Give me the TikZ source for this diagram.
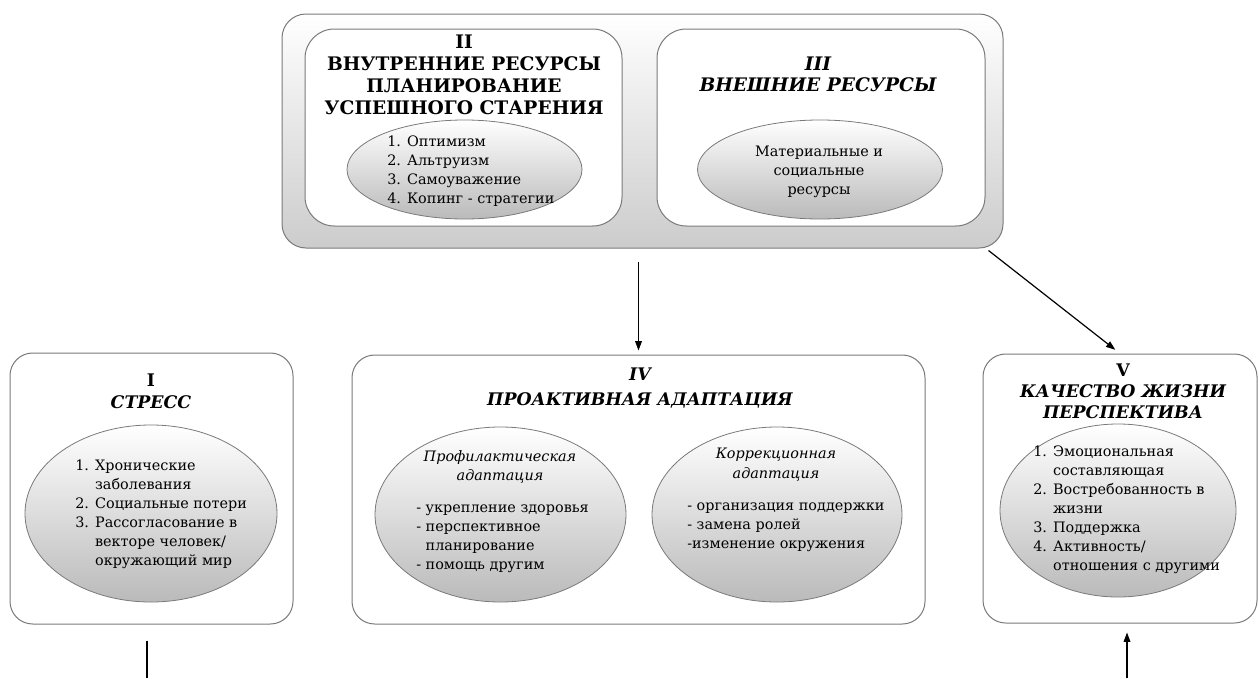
\documentclass[tikz,border=0pt]{standalone}
\usepackage{fontspec}
\setmainfont{DejaVu Serif}
\usetikzlibrary{shapes.geometric,arrows.meta}
\definecolor{edgegray}{HTML}{7A7A7A}
\tikzset{
  panel/.style={draw=edgegray, line width=0.75pt, fill=white, rounded corners=17pt, inner sep=0pt},
  bigpanel/.style={draw=edgegray, line width=0.75pt, rounded corners=18pt, inner sep=0pt, top color=white, bottom color=black!20},
  oval/.style={ellipse, draw=edgegray, line width=0.6pt, inner sep=0pt, top color=white, bottom color=black!27},
  ttl/.style={align=center, inner sep=0pt, font=\bfseries\fontsize{14}{16.5}\selectfont},
  ttli/.style={align=center, inner sep=0pt, font=\bfseries\itshape\fontsize{13}{16}\selectfont},
  lst/.style={align=left, inner sep=0pt, anchor=west, font=\fontsize{10.8}{14.25}\selectfont},
  ctr/.style={align=center, inner sep=0pt, font=\fontsize{10.8}{14.25}\selectfont},
  sub/.style={align=center, inner sep=0pt, font=\itshape\fontsize{10.8}{14.8}\selectfont},
  arr/.style={draw=black, line width=0.9pt, -{Triangle[length=7pt,width=5pt]}},
  plain/.style={draw=black, line width=0.9pt}
}
\begin{document}
\begin{tikzpicture}[x=0.75pt, y=-0.75pt]
\useasboundingbox (0,0) rectangle (1259,678);
% top block
\node[bigpanel, minimum width=540.75pt, minimum height=175.5pt] (T) at (642.5,131) {};
\node[panel, rounded corners=22pt, minimum width=237.75pt, minimum height=147.75pt] (B2) at (463.5,127.5) {};
\node[panel, rounded corners=22pt, minimum width=246pt, minimum height=147.75pt] (B3) at (821,127.5) {};
\node[oval, minimum width=176.25pt, minimum height=74.25pt] (E2) at (464.5,169.5) {};
\node[oval, minimum width=183.75pt, minimum height=74.25pt] (E3) at (820,169.5) {};
\node[ttl] (t2) at (464,75) {II\\ВНУТРЕННИЕ РЕСУРСЫ\\ПЛАНИРОВАНИЕ\\УСПЕШНОГО СТАРЕНИЯ};
\node[ttli, font=\bfseries\itshape\fontsize{14}{15.5}\selectfont] (t3) at (818,74) {III\\ВНЕШНИЕ РЕСУРСЫ};
\node[lst] (l2) at (387,171) {1. Оптимизм\\2. Альтруизм\\3. Самоуважение\\4. Копинг - стратегии};
\node[ctr] (l3) at (819,172) {Материальные и\\социальные\\ресурсы};
% box I
\node[panel, minimum width=212.25pt, minimum height=203.25pt] (B1) at (151.5,488.5) {};
\node[oval, minimum width=189pt, minimum height=132.75pt] (E1) at (151,513.5) {};
\node[ttli, font=\bfseries\fontsize{13}{16.5}\selectfont] (t1) at (151,391) {I\\\textit{СТРЕСС}};
\node[lst] (l1) at (75,514.5) {1. Хронические\\\phantom{1. }заболевания\\2. Социальные потери\\3. Рассогласование в\\\phantom{3. }векторе человек/\\\phantom{3. }окружающий мир};
% box IV
\node[panel, minimum width=429.75pt, minimum height=201.75pt] (B4) at (638.5,489.5) {};
\node[oval, minimum width=188.25pt, minimum height=131.25pt] (E4a) at (500.5,514.5) {};
\node[oval, minimum width=187.5pt, minimum height=131.25pt] (E4b) at (777,514.5) {};
\node[ttli, font=\bfseries\itshape\fontsize{13}{18.75}\selectfont] (t4) at (640,388) {IV\\ПРОАКТИВНАЯ АДАПТАЦИЯ};
\node[sub] (s4a) at (500,467) {Профилактическая\\адаптация};
\node[lst] (l4a) at (416,538.5) {- укрепление здоровья\\- перспективное\\\phantom{- }планирование\\- помощь другим};
\node[sub] (s4b) at (776,465) {Коррекционная\\адаптация};
\node[lst] (l4b) at (687,527.5) {- организация поддержки\\- замена ролей\\-изменение окружения};
% box V
\node[panel, minimum width=205.5pt, minimum height=201.75pt] (B5) at (1120,488.5) {};
\node[oval, minimum width=177pt, minimum height=129.75pt] (E5) at (1118,510.5) {};
\node[ttli, font=\fontsize{13}{15.75}\selectfont] (t5) at (1123,391.5) {\bfseries V\\\bfseries\itshape КАЧЕСТВО ЖИЗНИ\\\bfseries\itshape ПЕРСПЕКТИВА};
\node[lst] (l5) at (1033,510) {1. Эмоциональная\\\phantom{1. }составляющая\\2. Востребованность в\\\phantom{2. }жизни\\3. Поддержка\\4. Активность/\\\phantom{4. }отношения с другими};
% connectors
\coordinate (dstart) at ([xshift=-11.25pt,yshift=-1.5pt]T.south east);
\coordinate (iout) at (147,678);
\coordinate (vin) at (1127,678);
\draw[arr, shorten <=9.75pt, shorten >=3pt] (T.south -| B4.north) -- (B4.north);
\draw[arr, shorten >=4.5pt] (dstart) -- (B5.north);
\draw[plain, shorten <=12pt] (iout |- B1.south) -- (iout);
\draw[arr, shorten >=6.75pt] (vin) -- (vin |- B5.south);
\end{tikzpicture}
\end{document}
